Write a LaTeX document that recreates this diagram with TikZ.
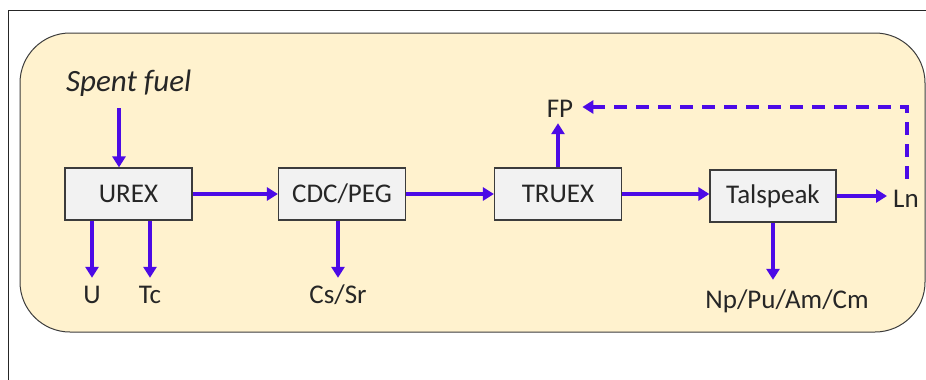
\documentclass[tikz,border=0pt]{standalone}
\usepackage{fontspec}
\setmainfont{Carlito}
\usetikzlibrary{arrows.meta,calc}
\definecolor{flow}{RGB}{76,10,230}
\definecolor{panel}{RGB}{255,242,206}
\definecolor{boxfill}{RGB}{242,242,242}
\definecolor{boxline}{RGB}{60,60,60}
\definecolor{ink}{RGB}{38,38,38}
\tikzset{
  stage/.style={draw=boxline, line width=1.2pt, fill=boxfill, minimum width=127pt,
    minimum height=52pt, inner sep=0pt, text=ink, font=\fontsize{27}{32}\selectfont},
  stream/.style={inner sep=0pt, text=ink, text height=20pt, text depth=6pt,
    font=\fontsize{27}{32}\selectfont},
  flowline/.style={draw=flow, line width=3.2pt, -{Triangle[length=11pt,width=13pt]}},
  recycle/.style={flowline, dash pattern=on 13pt off 9pt}
}
\begin{document}
\begin{tikzpicture}[x=1pt,y=-1pt]
\useasboundingbox (0,0) rectangle (926,380);
% outer frame and process panel
\draw[line width=1pt, black!85] (8,380) -- (8,10) -- (927,10);
\draw[line width=1pt, boxline, fill=panel, rounded corners=50pt] (20,33) rectangle (925,332);

% process stages
\node[stage] (urex) at (128.5,194) {UREX};
\node[stage] (cdc) at (342,194) {CDC/PEG};
\node[stage] (truex) at (558,194) {TRUEX};
\node[stage, minimum width=126pt] (tal) at (773,196) {Talspeak};

% feed and product streams
\node[inner sep=0pt, text=ink, anchor=base west, font=\fontsize{31}{37}\selectfont\itshape] (feed) at (66,91) {Spent fuel};
\coordinate (feedin) at (119,108);
\node[stream, anchor=base] (u) at (92,303) {U};
\node[stream, anchor=base] (tc) at (150,303) {Tc};
\node[stream, anchor=base] (cssr) at (338,303) {Cs/Sr};
\node[stream, anchor=base] (fp) at (560,117) {FP};
\node[stream, anchor=base west] (ln) at (893,207) {Ln};
\node[stream, anchor=base] (act) at (787,308) {Np/Pu/Am/Cm};

% main flow
\draw[flowline] (feedin) -- (feedin |- urex.north);
\draw[flowline] (urex.east) -- (cdc.west);
\draw[flowline] (cdc.east) -- (truex.west);
\draw[flowline] (truex.east) -- (tal.west |- truex.east);
\draw[flowline, shorten >=6pt] (tal.east) -- (ln.west |- tal.east);

% side streams
\draw[flowline, shorten >=5pt] (u.north |- urex.south) -- (u.north);
\draw[flowline, shorten >=5pt] (tc.north |- urex.south) -- (tc.north);
\draw[flowline, shorten >=5pt] (cssr.north |- cdc.south) -- (cssr.north);
\draw[flowline, shorten >=8pt] (tal.south) -- (tal.south |- act.north);
\draw[flowline] (truex.north) -- (truex.north |- fp.south);

% lanthanide recycle to fission products
\draw[recycle, shorten <=8pt, shorten >=9pt] ($(ln.north)+(1,0)$) |- ($(fp.east)+(0,-3)$);
\end{tikzpicture}
\end{document}
